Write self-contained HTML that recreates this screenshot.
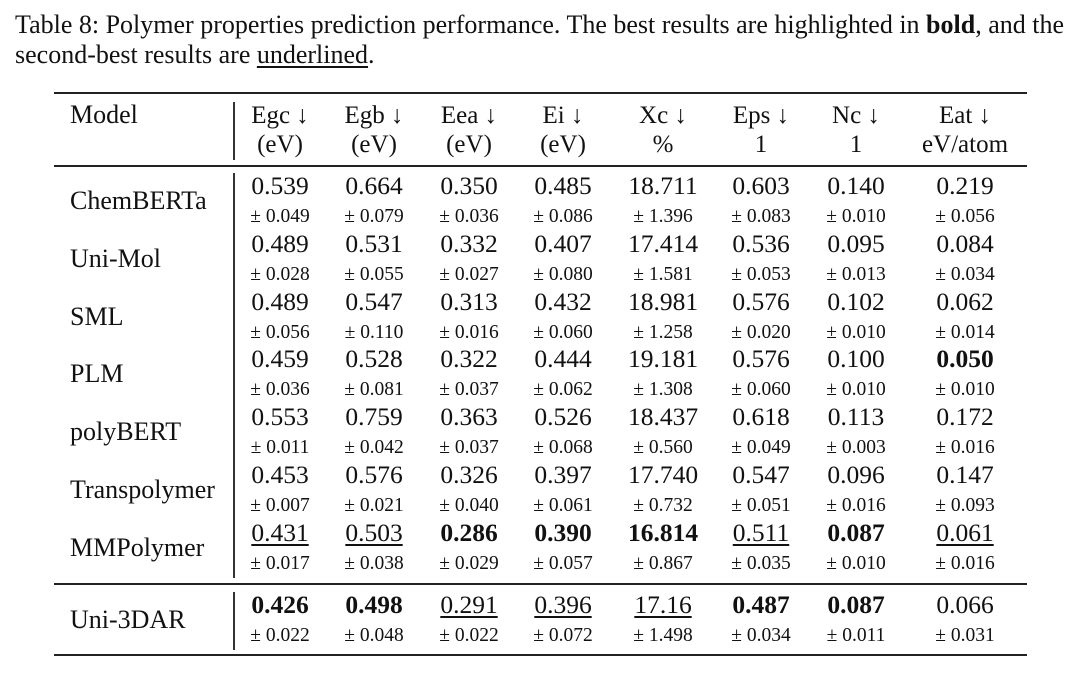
<!DOCTYPE html>
<html><head><meta charset="utf-8"><style>
body{margin:0;width:1080px;height:688px;background:#fff;position:relative;font-family:"Liberation Serif",serif;color:#111;overflow:hidden}
.a{position:absolute;white-space:nowrap}
.cap{left:15px;font-size:26px}
.rule{position:absolute;left:54px;width:973px;background:#222}
.vl{position:absolute;left:233px;width:2px;background:#333}
.c{position:absolute;transform:translate(-50%,-50%);white-space:nowrap;text-align:center}
.v{font-size:25.5px}
.p{font-size:19.5px}
.h{font-size:25px;line-height:29px}
.m{font-size:26px;left:70px;transform:translateY(-50%);position:absolute}
b{font-weight:bold}
u{text-decoration:underline;text-decoration-thickness:1.5px;text-underline-offset:3px}
</style></head><body>
<div class="a cap" style="top:10px">Table 8: Polymer properties prediction performance. The best results are highlighted in <b>bold</b>, and the</div>
<div class="a cap" style="top:40px">second-best results are <u>underlined</u>.</div>
<div class="rule" style="top:92px;height:2px"></div>
<div class="rule" style="top:165px;height:1.5px"></div>
<div class="rule" style="top:583px;height:1.5px"></div>
<div class="rule" style="top:654px;height:2px"></div>
<div class="vl" style="top:102px;height:58px"></div>
<div class="vl" style="top:173px;height:405px"></div>
<div class="vl" style="top:592px;height:58px"></div>
<div class="a h" style="left:70px;top:100px;font-size:26px">Model</div>
<div id="t"></div>
<script>
const cols=[280,374,469,563,663,761,856,965];
const heads=[["Egc ↓","(eV)"],["Egb ↓","(eV)"],["Eea ↓","(eV)"],["Ei ↓","(eV)"],["Xc ↓","%"],["Eps ↓","1"],["Nc ↓","1"],["Eat ↓","eV/atom"]];
const models=["ChemBERTa","Uni-Mol","SML","PLM","polyBERT","Transpolymer","MMPolymer","Uni-3DAR"];
const vals=[
["0.539","0.664","0.350","0.485","18.711","0.603","0.140","0.219"],
["0.489","0.531","0.332","0.407","17.414","0.536","0.095","0.084"],
["0.489","0.547","0.313","0.432","18.981","0.576","0.102","0.062"],
["0.459","0.528","0.322","0.444","19.181","0.576","0.100","*0.050"],
["0.553","0.759","0.363","0.526","18.437","0.618","0.113","0.172"],
["0.453","0.576","0.326","0.397","17.740","0.547","0.096","0.147"],
["_0.431","_0.503","*0.286","*0.390","*16.814","_0.511","*0.087","_0.061"],
["*0.426","*0.498","_0.291","_0.396","_17.16","*0.487","*0.087","0.066"]];
const pms=[
["0.049","0.079","0.036","0.086","1.396","0.083","0.010","0.056"],
["0.028","0.055","0.027","0.080","1.581","0.053","0.013","0.034"],
["0.056","0.110","0.016","0.060","1.258","0.020","0.010","0.014"],
["0.036","0.081","0.037","0.062","1.308","0.060","0.010","0.010"],
["0.011","0.042","0.037","0.068","0.560","0.049","0.003","0.016"],
["0.007","0.021","0.040","0.061","0.732","0.051","0.016","0.093"],
["0.017","0.038","0.029","0.057","0.867","0.035","0.010","0.016"],
["0.022","0.048","0.022","0.072","1.498","0.034","0.011","0.031"]];
const vY=[186,244,302,359,417,475,533,605];
const t=document.getElementById('t');
function add(html,cls,x,y,name){const d=document.createElement('div');d.className=cls;d.style.left=x+'px';d.style.top=y+'px';d.innerHTML=html;


t.appendChild(d);}
heads.forEach((h,i)=>add(h[0]+'<br>'+h[1],'c h',cols[i],130,'header-col-'+(i+1)));
models.forEach((m,r)=>{
 add(m,'m',70,vY[r]+15,'model-'+m.toLowerCase());
 vals[r].forEach((v,i)=>{let s=v;if(v[0]=='*')s='<b>'+v.slice(1)+'</b>';else if(v[0]=='_')s='<u>'+v.slice(1)+'</u>';
  add(s,'c v',cols[i],vY[r],'value-r'+r+'-c'+i);
  add('± '+pms[r][i],'c p',cols[i],vY[r]+31,'std-r'+r+'-c'+i);});
});
</script>
</body></html>
